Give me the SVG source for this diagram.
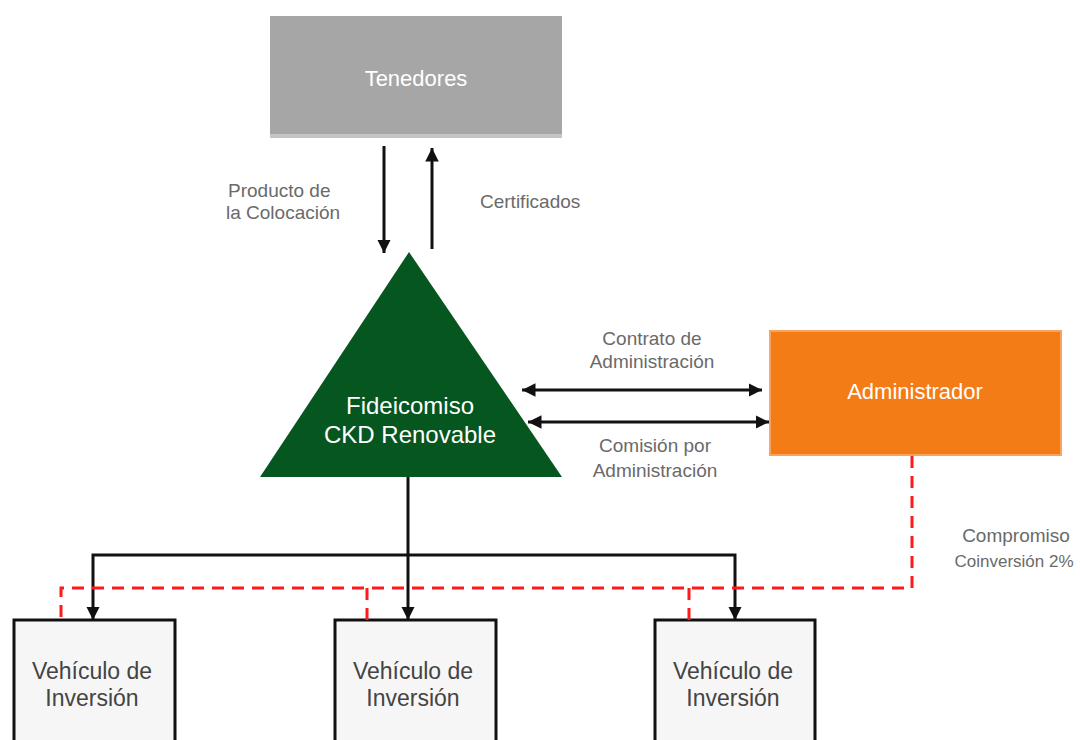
<svg xmlns="http://www.w3.org/2000/svg" width="1080" height="740" viewBox="0 0 1080 740">
<style>
.lbl{font-family:"Liberation Sans",Arial,sans-serif;font-size:19px;fill:#6a6a6a}
.wt{font-family:"Liberation Sans",Arial,sans-serif;fill:#ffffff;text-anchor:middle}
.vt{font-family:"Liberation Sans",Arial,sans-serif;font-size:23px;fill:#444444;text-anchor:middle}
.ln{stroke:#111111;stroke-width:3;fill:none}
.rd{stroke:#ff1a1a;stroke-width:3;fill:none;stroke-dasharray:12 8}
.vbox{fill:#f6f6f6;stroke:#111111;stroke-width:3}
</style>
<defs>
<marker id="ah" viewBox="0 0 10 10" refX="10" refY="5" markerWidth="4.5" markerHeight="4.5" orient="auto-start-reverse" markerUnits="strokeWidth">
<path d="M0,0 L10,5 L0,10 z" fill="#111111"/>
</marker>
</defs>
<rect width="1080" height="740" fill="#ffffff"/>

<g id="tenedores">
<rect x="270" y="16" width="292" height="122" fill="#a6a6a6"/>
<rect x="270" y="134" width="292" height="4" fill="#c4c4c4"/>
<text class="wt" x="416" y="86" font-size="22">Tenedores</text>
</g>

<g id="fideicomiso">
<polygon points="409,252 260,477 562,477" fill="#06561f"/>
<text class="wt" x="410" y="414" font-size="24">Fideicomiso</text>
<text class="wt" x="410" y="443" font-size="24">CKD Renovable</text>
</g>

<g id="administrador">
<rect x="770" y="331" width="291" height="124" fill="#f47c16" stroke="#f9a45c" stroke-width="2"/>
<text class="wt" x="915" y="399" font-size="22">Administrador</text>
</g>

<g id="vehiculo1">
<rect class="vbox" x="14" y="620" width="161" height="130"/>
<text class="vt" x="92" y="679">Vehículo de</text>
<text class="vt" x="92" y="706">Inversión</text>
</g>
<g id="vehiculo2">
<rect class="vbox" x="335" y="620" width="161" height="130"/>
<text class="vt" x="413" y="679">Vehículo de</text>
<text class="vt" x="413" y="706">Inversión</text>
</g>
<g id="vehiculo3">
<rect class="vbox" x="655" y="620" width="160" height="130"/>
<text class="vt" x="733" y="679">Vehículo de</text>
<text class="vt" x="733" y="706">Inversión</text>
</g>

<g id="connectors">
<line class="ln" x1="384" y1="146" x2="384" y2="253" marker-end="url(#ah)"/>
<line class="ln" x1="432" y1="249" x2="432" y2="148" marker-end="url(#ah)"/>
<line class="ln" x1="522" y1="390" x2="762" y2="390" marker-start="url(#ah)" marker-end="url(#ah)"/>
<line class="ln" x1="528" y1="422" x2="769" y2="422" marker-start="url(#ah)" marker-end="url(#ah)"/>
<polyline class="ln" points="408,477 408,555"/>
<polyline class="ln" points="93,620 93,555 735,555 735,620" marker-start="url(#ah)" marker-end="url(#ah)"/>
<line class="ln" x1="408" y1="555" x2="408" y2="620" marker-end="url(#ah)"/>
<polyline class="rd" points="912,456 912,588 61,588 61,620"/>
<polyline class="rd" points="367,588 367,620"/>
<polyline class="rd" points="689,588 689,620"/>
</g>

<g id="labels">
<text class="lbl" x="228" y="197">Producto de</text>
<text class="lbl" x="226" y="219">la Colocación</text>
<text class="lbl" x="480" y="208">Certificados</text>
<text class="lbl" x="652" y="345" text-anchor="middle">Contrato de</text>
<text class="lbl" x="652" y="368" text-anchor="middle">Administración</text>
<text class="lbl" x="655" y="452" text-anchor="middle">Comisión por</text>
<text class="lbl" x="655" y="477" text-anchor="middle">Administración</text>
<text class="lbl" x="1016" y="542" text-anchor="middle">Compromiso</text>
<text class="lbl" x="1014" y="567" text-anchor="middle" style="font-size:17px">Coinversión 2%</text>
</g>
</svg>
